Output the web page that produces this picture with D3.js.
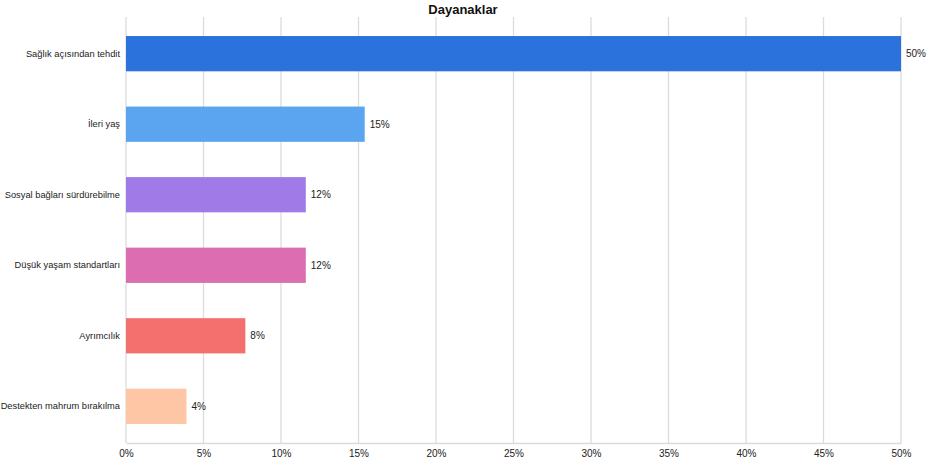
<!DOCTYPE html>
<html><head><meta charset="utf-8">
<script src="https://cdn.jsdelivr.net/npm/d3@7"></script>
<style>body{margin:0;background:#fff}svg{display:block;font-family:"Liberation Sans",Arial,sans-serif}</style>
</head><body><svg id="c" width="929" height="465"></svg>
<script>
const title = "Dayanaklar";
const categories = ["Sağlık açısından tehdit","İleri yaş","Sosyal bağları sürdürebilme","Düşük yaşam standartları","Ayrımcılık","Destekten mahrum bırakılma"];
const values = [50, 15.4, 11.6, 11.6, 7.7, 3.9];
const valueLabels = ["50%","15%","12%","12%","8%","4%"];
const colors = ["#2c72dc","#5ba4f0","#a07ae6","#db6db0","#f4706e","#fec6a4"];
const tickValues = [0,5,10,15,20,25,30,35,40,45,50];

const svg = d3.select("#c");
const x = d3.scaleLinear().domain([0,50]).range([126,901]);
const y = d3.scaleBand().domain(categories).range([17,443]).paddingInner(0.5).paddingOuter(0.27);

svg.append("text").attr("x",463).attr("y",14).attr("text-anchor","middle")
  .attr("font-size",13).attr("font-weight","bold").attr("fill","#111").text(title);

// grid
svg.append("g").selectAll("line").data(tickValues).join("line")
  .attr("x1",d=>x(d)).attr("x2",d=>x(d)).attr("y1",17).attr("y2",443)
  .attr("stroke","#dcdcdc").attr("stroke-width",1.3);

// x axis
const xa = svg.append("g").attr("transform","translate(0,443)")
  .call(d3.axisBottom(x).tickValues(tickValues).tickFormat(d=>d+"%").tickSize(0).tickPadding(7));
xa.select(".domain").attr("stroke","#dcdcdc").attr("stroke-width",1.3);
xa.selectAll("text").attr("font-size",10).attr("fill","#222").attr("font-family","Liberation Sans, Arial, sans-serif");

// y axis labels
const ya = svg.append("g").attr("transform","translate(126,0)")
  .call(d3.axisLeft(y).tickSize(0).tickPadding(6));
ya.select(".domain").remove();
ya.selectAll("text").attr("font-size",9.3).attr("fill","#222").attr("font-family","Liberation Sans, Arial, sans-serif");

// bars
svg.append("g").selectAll("rect").data(values).join("rect")
  .attr("x",x(0)).attr("y",(d,i)=>y(categories[i]))
  .attr("width",d=>x(d)-x(0)).attr("height",y.bandwidth())
  .attr("fill",(d,i)=>colors[i]);

// value labels
svg.append("g").selectAll("text").data(values).join("text")
  .attr("x",d=>x(d)+5).attr("y",(d,i)=>y(categories[i])+y.bandwidth()/2)
  .attr("dy","0.35em").attr("font-size",10).attr("fill","#222")
  .text((d,i)=>valueLabels[i]);
</script></body></html>
